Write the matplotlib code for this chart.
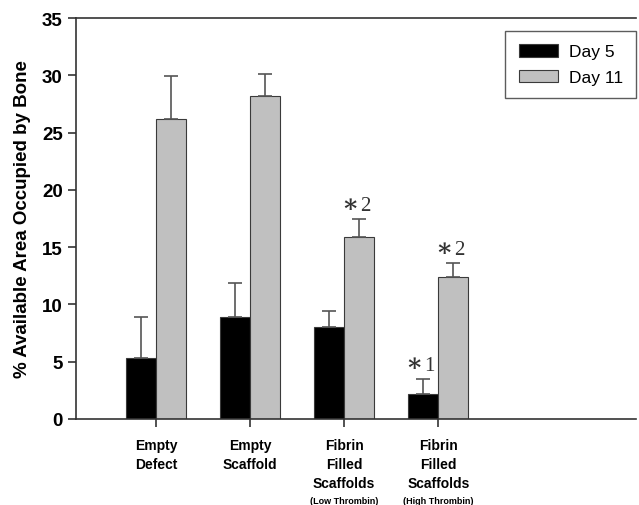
import numpy as np
import matplotlib.pyplot as plt

plt.rcParams['font.family'] = ['Liberation Sans', 'DejaVu Sans']

# Data
groups = ['Empty\nDefect', 'Empty\nScaffold', 'Fibrin\nFilled\nScaffolds', 'Fibrin\nFilled\nScaffolds']
subnotes = ['', '', '(Low Thrombin)', '(High Thrombin)']
day5 = [5.3, 8.9, 8.0, 2.2]
day5_err = [3.6, 3.0, 1.45, 1.3]
day11 = [26.2, 28.2, 15.9, 12.4]
day11_err = [3.7, 1.9, 1.55, 1.2]
marks11 = ['', '', '2', '2']
marks5 = ['', '', '', '1']

fig = plt.figure(figsize=(6.39, 5.06), dpi=100)
ax = fig.add_axes([76/639, 86/506, 560/639, 401/506])

x = np.arange(1, 5)
w = 0.32
ecol = '#3a3a3a'
ax.bar(x - w/2, day5, w, color='black', edgecolor=ecol, linewidth=0.8, label='Day 5',
       yerr=[np.zeros(4), day5_err], error_kw=dict(ecolor='#555555', elinewidth=1.2, capsize=5, capthick=1.2))
ax.bar(x + w/2, day11, w, color='#c0c0c0', edgecolor=ecol, linewidth=0.8, label='Day 11',
       yerr=[np.zeros(4), day11_err], error_kw=dict(ecolor='#555555', elinewidth=1.2, capsize=5, capthick=1.2))

# significance marks above the error caps
def star(xpos, ypos, num):
    ax.annotate('\u2217', xy=(xpos, ypos), xytext=(-0.5, 2.5), textcoords='offset points',
                ha='right', va='bottom', family='DejaVu Serif', fontsize=18,
                fontweight='bold', color='#333333')
    ax.annotate(num, xy=(xpos, ypos), xytext=(0.5, 3), textcoords='offset points',
                ha='left', va='bottom', family='Liberation Serif', fontsize=15, color='#333333')

for i in range(4):
    if marks11[i]:
        star(x[i] + w/2, day11[i] + day11_err[i], marks11[i])
    if marks5[i]:
        star(x[i] - w/2, day5[i] + day5_err[i], marks5[i])

ax.set_xlim(0.15, 6.1)
ax.set_ylim(0, 35)
ax.set_yticks(range(0, 36, 5))
ax.set_xticks(x)
ax.set_xticklabels(groups, fontsize=10, fontweight='bold', linespacing=1.42)
for lab in ax.get_yticklabels():
    lab.set_fontweight('bold')
    lab.set_fontsize(13.5)
ax.tick_params(axis='both', direction='out', length=6, width=1.2, color='#333333')
ax.tick_params(axis='x', pad=8)

# small parenthetical notes under the last two groups
for i in range(4):
    if subnotes[i]:
        ax.annotate(subnotes[i], xy=(x[i], 0), xycoords=('data', 'axes fraction'),
                    xytext=(0, -58.5), textcoords='offset points', ha='center', va='center',
                    fontsize=6.5, fontweight='bold')

ax.set_ylabel('% Available Area Occupied by Bone', fontsize=13.5, fontweight='bold', labelpad=8)

ax.spines['right'].set_visible(False)
for s in ['left', 'bottom', 'top']:
    ax.spines[s].set_color('#333333')
    ax.spines[s].set_linewidth(1.2)

leg = ax.legend(loc='upper right', bbox_to_anchor=(1.0, 0.968), fontsize=12.5, fancybox=False,
                edgecolor='#333333', handlelength=2.3, handleheight=0.75, handletextpad=0.6,
                borderpad=0.75, labelspacing=0.6, borderaxespad=0)
leg.get_frame().set_linewidth(1.0)

fig.savefig('out.png', dpi=100)
